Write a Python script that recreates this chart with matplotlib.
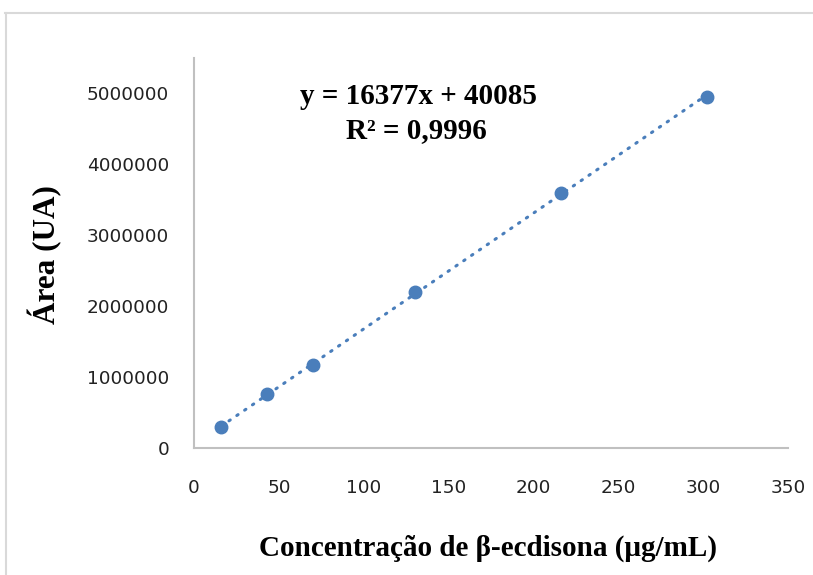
import numpy as np
import matplotlib
matplotlib.use("Agg")
import matplotlib.pyplot as plt
from matplotlib.lines import Line2D

# Data
conc = [16, 43, 70, 130, 216, 302]
area = [295000, 755000, 1165000, 2200000, 3600000, 4950000]
xticks = [0, 50, 100, 150, 200, 250, 300, 350]
yticks = [0, 1000000, 2000000, 3000000, 4000000, 5000000]
eq_text = "y = 16377x + 40085"
r2_text = "R² = 0,9996"
xlabel = "Concentração de β-ecdisona (μg/mL)"
ylabel = "Área (UA)"

fig = plt.figure(figsize=(8.13, 5.75), dpi=100)
ax = fig.add_axes([194/813, 1-448/575, (788-194)/813, (448-58)/575])

blue = "#4a7ebb"
slope, intercept = np.polyfit(conc, area, 1)
xl = np.array([min(conc), max(conc)])
ax.plot(xl, slope*xl + intercept, color=blue, lw=2.2, linestyle=(0, (0.5, 2.6)),
        dash_capstyle="round", zorder=2)
ax.plot(conc, area, "o", color=blue, ms=9, zorder=3)

ax.set_xlim(0, 350)
ax.set_ylim(0, 5500000)
ax.set_xticks(xticks)
ax.set_yticks(yticks)
ax.set_xticklabels([str(v) for v in xticks])
ax.set_yticklabels([str(v) for v in yticks])
ax.tick_params(length=0, labelsize=13.3, colors="#222222")
ax.tick_params(axis="y", pad=18)
ax.tick_params(axis="x", pad=22)
for lab in ax.get_xticklabels() + ax.get_yticklabels():
    lab.set_family("DejaVu Sans")

for s in ["top", "right"]:
    ax.spines[s].set_visible(False)
for s in ["left", "bottom"]:
    ax.spines[s].set_color("#c0c0c0")
    ax.spines[s].set_linewidth(1.5)

serif = "Liberation Serif"
fig.text(418/813, 1-97/575, eq_text, ha="center", va="center",
         fontsize=21, fontweight="bold", family=serif)
fig.text(416/813, 1-131/575, r2_text, ha="center", va="center",
         fontsize=21, fontweight="bold", family=serif)
fig.text(488/813, 1-548/575, xlabel, ha="center", va="center",
         fontsize=21, fontweight="bold", family=serif)
fig.text(45/813, 1-255/575, ylabel, ha="center", va="center", rotation=90,
         fontsize=22.5, fontweight="bold", family=serif)

# chart-area border (Excel style)
bc = "#d9d9d9"
fig.add_artist(Line2D([5/813, 1.0], [1-12.5/575]*2, color=bc, lw=1.5,
                      transform=fig.transFigure))
fig.add_artist(Line2D([5.5/813]*2, [0, 1-12.5/575], color=bc, lw=1.5,
                      transform=fig.transFigure))

fig.savefig("out.png", dpi=100)
